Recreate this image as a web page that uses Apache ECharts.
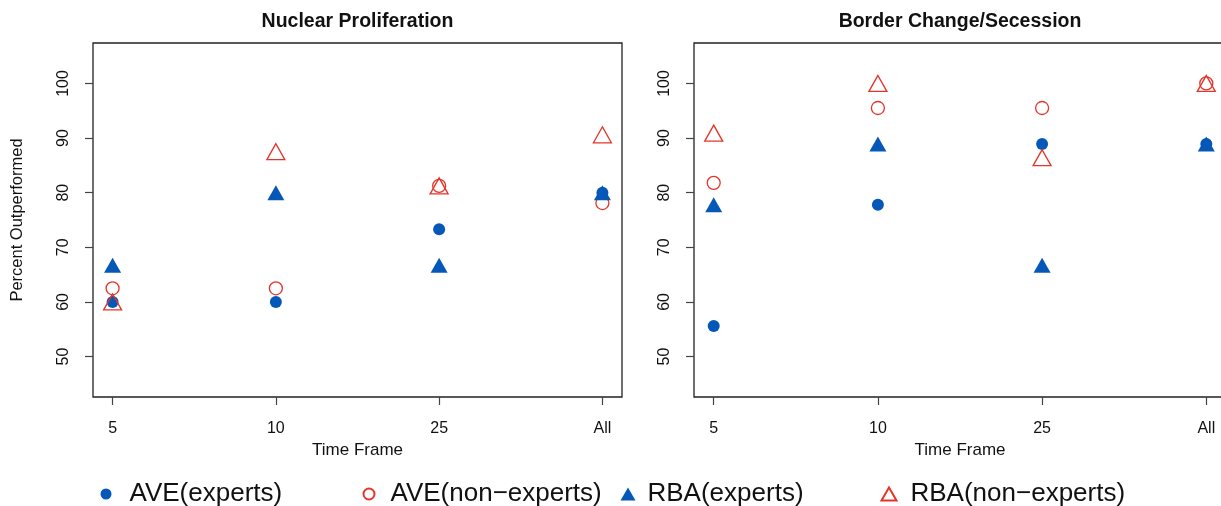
<!DOCTYPE html>
<html>
<head>
<meta charset="utf-8">
<script src="https://cdn.jsdelivr.net/npm/echarts@6/dist/echarts.min.js"></script>
<style>
  html, body { margin: 0; padding: 0; background: #fff; }
  #chart { width: 1221px; height: 506px; }
</style>
</head>
<body>
<div id="chart"></div>
<script>
  // categories on the x axis
  const timeFrames = ["5", "10", "25", "All"];
  const yTicks = [50, 60, 70, 80, 90, 100];
  const panelTitles = ["Nuclear Proliferation", "Border Change/Secession"];
  const seriesNames = ["AVE(experts)", "AVE(non\u2212experts)", "RBA(experts)", "RBA(non\u2212experts)"];

  // Nuclear Proliferation
  const nucAveExperts = [60, 60, 73.3, 80];
  const nucAveNon = [62.5, 62.5, 81.25, 78.1];
  const nucRbaExperts = [66.7, 80, 66.7, 80];
  const nucRbaNon = [60, 87.5, 81.25, 90.6];

  // Border Change/Secession
  const borAveExperts = [55.6, 77.8, 88.9, 88.9];
  const borAveNon = [81.8, 95.5, 95.5, 100];
  const borRbaExperts = [77.8, 88.9, 66.7, 88.9];
  const borRbaNon = [90.9, 100, 86.4, 100];

  const blue = "#0658B8";
  const red = "#E3352A";
  const font = "Liberation Sans";

  const styles = [
    { symbol: "circle", size: 12, itemStyle: { color: blue, opacity: 1 } },
    { symbol: "circle", size: 13, itemStyle: { color: "rgba(0,0,0,0)", borderColor: red, borderWidth: 1.3, opacity: 1 } },
    { symbol: "triangle", size: [17, 15], itemStyle: { color: blue, opacity: 1 } },
    { symbol: "triangle", size: [18, 16], itemStyle: { color: "rgba(0,0,0,0)", borderColor: red, borderWidth: 1.3, opacity: 1 } },
  ];

  const panels = [
    [nucAveExperts, nucAveNon, nucRbaExperts, nucRbaNon],
    [borAveExperts, borAveNon, borRbaExperts, borRbaNon],
  ];

  const grids = [
    { left: 93, right: 599, top: 43, bottom: 109 },
    { left: 694, right: -5, top: 43, bottom: 109 },
  ];

  const xAxes = grids.map((g, i) => ({
    type: "value",
    gridIndex: i,
    min: -0.12,
    max: 3.12,
    name: "Time Frame",
    nameLocation: "middle",
    nameGap: 42,
    nameTextStyle: { fontFamily: font, fontSize: 17, color: "#111" },
    splitLine: { show: false },
    axisLine: { show: false, onZero: false },
    axisTick: { show: true, length: 8, customValues: [0, 1, 2, 3], lineStyle: { color: "#444", width: 1.2 } },
    axisLabel: {
      customValues: [0, 1, 2, 3],
      margin: 24,
      fontFamily: font,
      fontSize: 16,
      color: "#111",
      formatter: (v) => timeFrames[Math.round(v)],
    },
  }));

  const yAxes = grids.map((g, i) => ({
    type: "value",
    gridIndex: i,
    min: 42.6,
    max: 107.4,
    name: i === 0 ? "Percent Outperformed" : "",
    nameLocation: "middle",
    nameGap: 67,
    nameTextStyle: { fontFamily: font, fontSize: 16.5, color: "#111" },
    splitLine: { show: false },
    axisLine: { show: false, onZero: false },
    axisTick: { show: true, length: 8, customValues: yTicks, lineStyle: { color: "#444", width: 1.2 } },
    axisLabel: {
      customValues: yTicks,
      rotate: 90,
      margin: 21,
      fontFamily: font,
      fontSize: 16,
      color: "#111",
    },
  }));

  const series = [];
  panels.forEach((panel, p) => {
    panel.forEach((vals, s) => {
      series.push({
        name: seriesNames[s],
        type: "scatter",
        xAxisIndex: p,
        yAxisIndex: p,
        symbol: styles[s].symbol,
        symbolSize: styles[s].size,
        itemStyle: styles[s].itemStyle,
        data: vals.map((v, k) => [k, v]),
        z: 2 + s,
      });
    });
  });

  const legendLeft = [95.5, 357.5, 615.5, 875.5];
  const legendPad = [13, 11, 7, 9];
  const legends = seriesNames.map((n, i) => ({
    data: [{ name: n, icon: styles[i].symbol }],
    left: legendLeft[i],
    top: 476,
    itemWidth: i < 2 ? 11 : 15,
    itemHeight: i < 2 ? 11 : 13,
    selectedMode: false,
    textStyle: { fontFamily: font, fontSize: 26, color: "#111", padding: [0, 0, 0, legendPad[i]] },
  }));

  const chart = echarts.init(document.getElementById("chart"));
  chart.setOption({
    animation: false,
    backgroundColor: "#fff",
    grid: grids.map((g) => Object.assign({
      show: true,
      borderColor: "#222",
      borderWidth: 1.3,
      backgroundColor: "transparent",
      containLabel: false,
      outerBoundsMode: "none",
    }, g)),
    xAxis: xAxes,
    yAxis: yAxes,
    legend: legends,
    graphic: [
      { type: "text", x: 357.5, y: 22, style: { text: panelTitles[0], fontFamily: font, fontSize: 19.5, fontWeight: "bold", fill: "#111", textAlign: "center", textVerticalAlign: "middle" } },
      { type: "text", x: 960, y: 22, style: { text: panelTitles[1], fontFamily: font, fontSize: 19.5, fontWeight: "bold", fill: "#111", textAlign: "center", textVerticalAlign: "middle" } },
    ],
    series: series,
  });
</script>
</body>
</html>
